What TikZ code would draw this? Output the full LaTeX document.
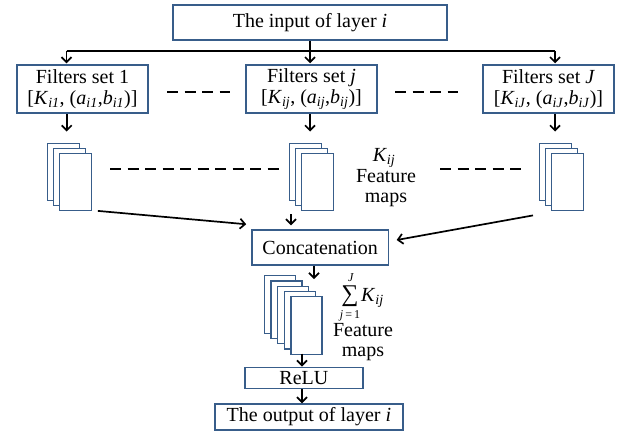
\documentclass[tikz,border=0pt]{standalone}
\usepackage{fontspec}
\setmainfont{Liberation Serif}
\usetikzlibrary{arrows.meta,calc}
\definecolor{boxblue}{RGB}{56,93,138}
\newcommand{\vi}[1]{\textit{#1}}
\newcommand{\sbi}[1]{\textsubscript{\textit{#1}}}
\begin{document}
\begin{tikzpicture}[x=1pt,y=-1pt,
  box/.style={draw=boxblue, line width=1.5pt, fill=white, inner sep=0pt, align=center,
              font=\fontsize{20}{21.6}\selectfont},
  conn/.style={line width=1.7pt, -{Straight Barb[length=5pt,width=10pt,line width=1.7pt]}},
  plainline/.style={line width=1.7pt},
  dashline/.style={line width=2pt, dash pattern=on 11pt off 6.5pt},
  fmap/.style={draw=boxblue, line width=1.4pt, fill=white, inner sep=0pt,
               minimum width=31.5pt, minimum height=56.5pt, anchor=north west},
  fmapb/.style={fmap, minimum width=31pt, minimum height=57.5pt},
  lbl/.style={align=center, inner sep=0pt, font=\fontsize{20}{20}\selectfont},
  small/.style={inner sep=0pt, font=\fontsize{12}{12}\selectfont}]
\useasboundingbox (0,0) rectangle (621,434);

% input and filter boxes
\node[box, minimum width=274pt, minimum height=35pt] (in) at (310,22.5) {The input of layer \vi{i}};
\node[box, minimum width=131pt, minimum height=48pt] (f1) at (82.5,89)
  {Filters set 1\\{}[\vi{K}\sbi{i1}, (\vi{a}\sbi{i1},\vi{b}\sbi{i1})]};
\node[box, minimum width=131pt, minimum height=48pt] (fj) at (311.5,89)
  {Filters set \vi{j}\\{}[\vi{K}\sbi{ij}, (\vi{a}\sbi{ij},\vi{b}\sbi{ij})]};
\node[box, minimum width=131pt, minimum height=48pt] (fJ) at (548.5,89)
  {Filters set \vi{J}\\{}[\vi{K}\sbi{iJ}, (\vi{a}\sbi{iJ},\vi{b}\sbi{iJ})]};

% bus
\coordinate (busL) at (66.5,50.7);
\coordinate (busR) at (555,50.7);
\draw[plainline] (in.south) -- (in.south |- busL);
\draw[plainline] (busL) -- (busR);
\draw[conn, shorten >=1pt] (busL) -- (busL |- f1.north);
\draw[conn, shorten >=1pt] (in.south |- busL) -- (in.south |- fj.north);
\draw[conn, shorten >=1pt] (busR) -- (busR |- fJ.north);

% dashed row 1
\coordinate (d1a) at (167,91.7); \coordinate (d1b) at (230,91.7);
\coordinate (d2a) at (395,91.7); \coordinate (d2b) at (458,91.7);
\draw[dashline] (d1a) -- (d1b);
\draw[dashline] (d2a) -- (d2b);

% feature map stacks
\foreach \k in {0,1,2} {
  \node[fmap] (m1-\k) at (47+6*\k,143+5*\k) {};
  \node[fmap] (mj-\k) at (289+6*\k,143+5*\k) {};
  \node[fmap] (mJ-\k) at (539+6*\k,143+5*\k) {};
}
\coordinate (a1) at (66.7,131.5);
\coordinate (aj) at (310,131.5);
\coordinate (aJ) at (555,131.5);
\draw[conn] (a1 |- f1.south) -- (a1);
\draw[conn] (aj |- fj.south) -- (aj);
\draw[conn] (aJ |- fJ.south) -- (aJ);

% dashed row 2
\coordinate (e1a) at (110,168.5); \coordinate (e1b) at (279,168.5);
\coordinate (e2a) at (440,168.5); \coordinate (e2b) at (521,168.5);
\draw[dashline] (e1a) -- (e1b);
\draw[dashline] (e2a) -- (e2b);

% label K_ij feature maps
\node[lbl] (kl) at (384,158) {\vi{K}\sbi{ij}};
\node[lbl] (fl) at (386,188) {Feature\\maps};

% concatenation
\node[box, minimum width=136.5pt, minimum height=35pt] (cc) at (320.2,247.5) {Concatenation};
\coordinate (s1) at ($(m1-2.south east)+(6,0)$);
\coordinate (t1) at ($(cc.north west)+(-5,-5)$);
\coordinate (sJ) at ($(mJ-2.south west)+(-18,4.5)$);
\coordinate (tJ) at ($(cc.east)+(7.5,-7.5)$);
\coordinate (sj) at (291,214);
\draw[conn] (s1) -- (t1);
\draw[conn] (sJ) -- (tJ);
\draw[conn, shorten >=4pt] (sj) -- (sj |- cc.north);

% concatenated stack
\foreach \k in {0,...,4} {
  \node[fmapb] (mc-\k) at (263.5+6.7*\k,275+5.25*\k) {};
}
\coordinate (ac) at (314,279);
\draw[conn] (ac |- cc.south) -- (ac);
\node[inner sep=0pt, font=\fontsize{24}{24}\selectfont] (sig) at (350,296) {∑};
\node[small] (sigtop) at (351,277.5) {\vi{J}};
\node[small] (sigbot) at (350,315.5) {\vi{j}\,=\,1};
\node[lbl, anchor=west] (sk) at (361,298) {\vi{K}\sbi{ij}};
\node[lbl] (fl2) at (363,342) {Feature\\maps};

% ReLU and output
\node[box, minimum width=117.7pt, minimum height=21pt] (relu) at (303.9,377.8) {ReLU};
\node[box, minimum width=187.7pt, minimum height=26pt] (out) at (308.9,417) {The output of layer \vi{i}};
\coordinate (ar) at (302,353.5);
\draw[conn] (ar) -- (ar |- relu.north);
\draw[conn] (ar |- relu.south) -- (ar |- out.north);
\end{tikzpicture}
\end{document}
